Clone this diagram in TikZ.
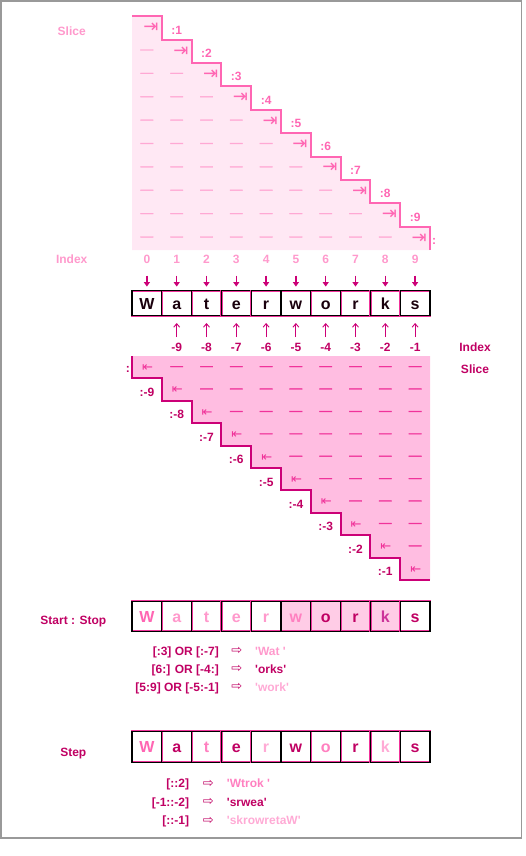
\documentclass[tikz,border=0pt]{standalone}
\usepackage{fontspec}
\setmainfont{Liberation Sans}
\newfontfamily\symfont{DejaVu Sans}
\newfontfamily\dashfont[FakeBold=2.5]{Liberation Sans}
\usetikzlibrary{arrows.meta}
\definecolor{lpink}{HTML}{FF99CC}
\definecolor{hpink}{HTML}{FF66B3}
\definecolor{tfill}{HTML}{FFE8F4}
\definecolor{tdash}{HTML}{FFA8D4}
\definecolor{bfill}{HTML}{FFBDE1}
\definecolor{bline}{HTML}{CC0077}
\definecolor{bdash}{HTML}{F0339A}
\definecolor{dmag}{HTML}{C00063}
\definecolor{ink}{HTML}{1A000D}
\definecolor{cellhl}{HTML}{FFCCE6}
\definecolor{vlpink}{HTML}{FFAAD5}
\definecolor{mpink}{HTML}{FF80C0}
\definecolor{kpink}{HTML}{CC3399}
\definecolor{framegray}{HTML}{999999}
\newcommand\sq{\textquotesingle}
\begin{document}
\begin{tikzpicture}[x=1pt,y=-1pt,
  lbl/.style={font=\fontsize{12}{14}\selectfont\bfseries,inner sep=0pt},
  dashtxt/.style={font=\dashfont\fontsize{12.5}{14}\selectfont,inner sep=0pt},
  tsym/.style={font=\symfont\fontsize{18}{20}\selectfont,inner sep=0pt,text=hpink},
  bsym/.style={font=\symfont\fontsize{13}{14}\selectfont,inner sep=0pt,text=bdash},
  lsym/.style={font=\symfont\fontsize{13}{14}\selectfont,inner sep=0pt,text=dmag},
  cell/.style={minimum width=29.8pt,inner sep=0pt,text height=11.6pt,text depth=0pt,
    font=\fontsize{16}{18}\selectfont\bfseries,draw=bdash,double=black,
    line width=0.45pt,double distance=1.3pt},
  darr/.style={draw=bline,line width=1.3pt,-{Triangle[length=4.5pt,width=6pt]}},
  uarr/.style={draw=bline,line width=0.9pt,-{Straight Barb[length=3.5pt,width=6pt]}}
]
\useasboundingbox (0,0) rectangle (526,856);
\draw[framegray,line width=1.2pt] (1,1) rectangle (521.5,838);

% ---------- top staircase ----------
\fill[tfill] (132,16.3) \foreach \k in {1,...,10}{ -- ({132+29.8*\k},{16.3+23.37*(\k-1)}) -- ({132+29.8*\k},{16.3+23.37*\k}) } -- (132,250) -- cycle;
\draw[hpink,line width=2pt] (132,16.3) \foreach \k in {1,...,10}{ -- ({132+29.8*\k},{16.3+23.37*(\k-1)}) -- ({132+29.8*\k},{16.3+23.37*\k}) };
\foreach \r in {0,...,9}{
  \pgfmathsetmacro\yc{28+23.37*\r}
  \foreach \c in {0,...,9}{
    \ifnum\c<\r
      \node[dashtxt,text=tdash] (td\r-\c) at ({146.9+29.8*\c},\yc) {—};
    \fi
  }
  \node[tsym] (ts\r) at ({151+29.8*\r},\yc) {⇥};
  \ifnum\r<9
    \pgfmathtruncatemacro\nn{\r+1}
    \node[lbl,text=hpink] (tl\r) at ({146.9+29.8*\nn},{\yc+2}) {:\nn};
  \else
    \node[lbl,text=hpink,anchor=west] (tl\r) at (432,{\yc+3.5}) {:};
  \fi
}
\node[lbl,text=lpink] (slicetop) at (71.7,31) {Slice};
\node[lbl,text=lpink] (indextop) at (71.7,259) {Index};

% ---------- main box ----------
\foreach [count=\i from 0] \ch in {W,a,t,e,r,w,o,r,k,s}{
  \node[cell,minimum height=25pt,fill=white,text=ink] (m\i) at ({146.9+29.8*\i},303.3) {\ch};
}
\foreach \i in {0,...,9}{
  \node[lbl,text=lpink] (ix\i) at ({146.9+29.8*\i},259) {\i};
  \draw[darr] ([yshift=-16.5pt]ix\i.center) -- ([yshift=4pt]m\i.north);
}
\foreach \i in {1,...,9}{
  \pgfmathtruncatemacro\nn{\i-10}
  \node[lbl,text=dmag] (ng\i) at ({146.9+29.8*\i},347) {\nn};
  \draw[uarr] ([yshift=10pt]ng\i.center) -- ([yshift=-7pt]m\i.south);
}
\node[lbl,text=dmag] (indexright) at (475,347) {Index};
\node[lbl,text=dmag] (sliceright) at (475,369) {Slice};

% ---------- bottom staircase ----------
\fill[bfill] (132,356) \foreach \k in {1,...,10}{ -- ({132+29.8*(\k-1)},{356+22.4*\k}) -- ({132+29.8*\k},{356+22.4*\k}) } -- (430,356) -- cycle;
\draw[bline,line width=2pt] (132,356) \foreach \k in {1,...,10}{ -- ({132+29.8*(\k-1)},{356+22.4*\k}) -- ({132+29.8*\k},{356+22.4*\k}) };
\foreach \r in {0,...,9}{
  \pgfmathsetmacro\yc{368+22.4*\r}
  \node[bsym] (bs\r) at ({147.5+29.8*\r},\yc) {⇤};
  \foreach \c in {0,...,9}{
    \ifnum\c>\r
      \node[dashtxt,text=bdash] (bd\r-\c) at ({146.9+29.8*\c},\yc) {—};
    \fi
  }
  \ifnum\r=0
    \node[lbl,text=dmag,anchor=east] (bl\r) at (130,{\yc+1}) {:};
  \else
    \pgfmathtruncatemacro\nn{\r-10}
    \node[lbl,text=dmag] (bl\r) at ({146.9+29.8*(\r-1)},{\yc+2}) {:\nn};
  \fi
}

% ---------- start : stop ----------
\node[lbl,text=dmag] (sslabel) at (73.3,621.7) {Start : Stop};
\foreach [count=\i from 0] \ch/\cl/\fl in {W/hpink/white,a/lpink/white,t/lpink/white,e/lpink/white,r/lpink/white,w/mpink/cellhl,o/dmag/cellhl,r/dmag/cellhl,k/kpink/cellhl,s/dmag/white}{
  \node[cell,minimum height=30pt,fill=\fl,text=\cl] (ss\i) at ({146.9+29.8*\i},616.3) {\ch};
}
\node[lbl,text=dmag,anchor=base east] (qa) at (219,655.3) {[:3] OR [:-7]};
\node[lsym] (qaa) at (236.7,651) {⇨};
\node[lbl,text=lpink,anchor=base west] (ra) at (255,655.3) {\sq Wat \sq};
\node[lbl,text=dmag,anchor=base east] (qb) at (219,673.6) {[6:] OR [-4:]};
\node[lsym] (qba) at (236.7,669.3) {⇨};
\node[lbl,text=dmag,anchor=base west] (rb) at (255,673.6) {\sq orks\sq};
\node[lbl,text=dmag,anchor=base east] (qc) at (219,691.6) {[5:9] OR [-5:-1]};
\node[lsym] (qca) at (236.7,687.3) {⇨};
\node[lbl,text=vlpink,anchor=base west] (rc) at (255,691.6) {\sq work\sq};

% ---------- step ----------
\node[lbl,text=dmag] (steplabel) at (73.3,754) {Step};
\foreach [count=\i from 0] \ch/\cl in {W/hpink,a/dmag,t/mpink,e/dmag,r/vlpink,w/dmag,o/mpink,r/dmag,k/vlpink,s/dmag}{
  \node[cell,minimum height=31pt,fill=white,text=\cl] (st\i) at ({146.9+29.8*\i},746.8) {\ch};
}
\node[lbl,text=dmag,anchor=base east] (pa) at (189.3,787.8) {[::2]};
\node[lsym] (paa) at (208.3,783.5) {⇨};
\node[lbl,text=mpink,anchor=base west] (sa) at (226.7,787.8) {\sq Wtrok \sq};
\node[lbl,text=dmag,anchor=base east] (pb) at (189.3,806.3) {[-1::-2]};
\node[lsym] (pba) at (208.3,802) {⇨};
\node[lbl,text=dmag,anchor=base west] (sb) at (226.7,806.3) {\sq srwea\sq};
\node[lbl,text=dmag,anchor=base east] (pc) at (189.3,824.8) {[::-1]};
\node[lsym] (pca) at (208.3,820.5) {⇨};
\node[lbl,text=vlpink,anchor=base west] (sc) at (226.7,824.8) {\sq skrowretaW\sq};
\end{tikzpicture}
\end{document}
